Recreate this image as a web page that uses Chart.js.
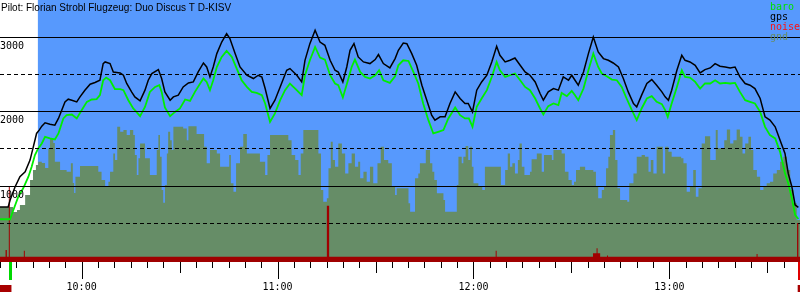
<!DOCTYPE html>
<html>
<head>
<meta charset="utf-8">
<script src="https://cdn.jsdelivr.net/npm/chart.js@4"></script>
<style>
  html, body { margin: 0; padding: 0; background: #fff; }
  #wrap { position: relative; width: 800px; height: 300px; }
</style>
</head>
<body>
<div id="wrap"><canvas id="barogram"></canvas></div>
<script>
// ── DATA ──────────────────────────────────────────────────────────────────────
// times are minutes after midnight, altitudes in metres

var pilotLine = 'Pilot: Florian Strobl Flugzeug: Duo Discus T D-KISV';

var timeRange = [575, 820];
var taskWindow = [586.6, 820];
var takeoffTime = 578.2;
var landingTime = 819.6;

var hourTicks = [600, 660, 720, 780];
var hourLabels = ['10:00', '11:00', '12:00', '13:00'];
var yMajor = [1000, 2000, 3000];
var yMajorLabels = ['1000', '2000', '3000'];
var yMinor = [500, 1500, 2500];

var gpsTimes = [575.0,577.5,578.1,579.6,581.1,582.7,584.2,585.2,586.2,587.0,
  587.8,588.8,590.3,591.8,592.9,593.9,594.9,595.9,597.0,598.5,
  599.5,601.0,602.6,604.1,605.6,606.6,607.2,608.7,609.7,611.8,
  612.8,613.8,615.3,616.3,617.9,619.4,620.4,621.5,623.5,624.5,
  625.5,627.1,628.1,629.6,631.1,632.7,634.2,635.7,637.3,638.3,
  639.3,640.3,641.4,642.9,644.4,645.4,647.0,648.5,650.6,652.6,
  654.1,655.2,656.2,657.7,659.2,660.8,662.8,663.8,665.9,667.4,
  668.4,669.9,671.5,673.0,674.5,676.1,677.6,678.6,680.0,681.2,
  682.2,683.4,684.7,686.3,688.3,689.9,690.9,692.4,694.4,696.0,
  697.0,698.5,699.6,701.1,702.6,704.2,705.7,707.2,708.2,709.8,
  711.3,712.8,714.4,715.9,717.4,718.4,719.7,721.0,722.5,724.1,
  725.6,727.1,728.1,729.7,731.2,732.7,734.3,735.8,737.3,738.9,
  740.4,741.4,742.9,744.5,746.0,747.5,749.1,750.1,751.1,752.1,
  753.7,755.2,756.7,758.2,759.8,761.3,762.8,764.4,765.9,767.4,
  769.0,770.0,771.5,773.1,774.6,776.1,777.7,778.7,779.7,780.7,
  782.3,783.8,784.8,786.3,787.9,789.4,790.9,792.5,794.0,795.5,
  797.1,798.6,800.1,801.6,803.2,804.7,806.2,807.8,809.3,810.8,
  812.4,813.9,815.4,816.4,817.5,818.5,819.5];
var gpsAlt = [718,718,812,987,1125,1192,1349,1527,1707,1752,
  1805,1850,1832,1819,1909,2020,2132,2168,2154,2132,
  2199,2289,2369,2392,2423,2647,2669,2647,2534,2521,
  2490,2379,2266,2199,2145,2289,2423,2513,2566,2446,
  2266,2154,2199,2222,2333,2387,2400,2534,2655,2601,
  2467,2601,2781,2937,3050,2983,2781,2601,2490,2446,
  2490,2467,2311,2043,2154,2333,2557,2580,2490,2400,
  2691,2915,3094,2937,2893,2691,2557,2534,2400,2601,
  2826,2915,2736,2669,2647,2701,2768,2647,2588,2714,
  2826,2924,2915,2781,2624,2356,2154,1953,1886,1930,
  1930,2110,2266,2177,2110,2110,1997,2289,2400,2490,
  2669,2879,2758,2669,2691,2722,2624,2534,2490,2400,
  2244,2154,2266,2311,2289,2467,2423,2490,2423,2356,
  2534,2781,3004,2803,2714,2691,2655,2601,2446,2266,
  2110,2064,2222,2379,2432,2356,2266,2199,2154,2289,
  2557,2758,2691,2669,2624,2521,2566,2588,2647,2611,
  2601,2588,2601,2467,2379,2356,2311,2177,1930,1886,
  1796,1617,1439,1170,991,745,714];

var baroTimes = [575.0,578.1,579.1,580.6,582.1,583.7,584.7,585.7,586.7,587.8,
  588.8,590.3,591.8,592.9,594.4,595.4,597.0,598.5,600.0,601.6,
  603.1,604.6,605.6,606.6,607.5,608.7,610.2,611.8,612.8,614.3,
  615.8,616.3,617.9,619.4,620.9,622.5,623.8,624.5,625.5,627.1,
  628.6,630.1,631.7,633.2,634.7,636.3,637.3,638.3,639.3,640.3,
  641.4,642.9,644.4,646.0,647.5,649.0,650.6,652.1,653.6,655.2,
  656.2,657.7,659.2,660.8,662.3,663.8,665.4,667.4,668.4,669.9,
  671.5,673.0,674.5,676.1,677.6,678.6,680.0,681.4,682.7,683.7,
  685.3,686.8,688.3,689.9,691.1,692.4,694.4,696.0,697.0,698.5,
  700.1,701.6,703.1,704.6,706.2,707.7,709.2,710.8,712.3,714.4,
  715.9,717.4,718.6,719.7,721.0,722.5,724.1,725.6,727.1,728.1,
  729.7,731.2,732.7,734.3,735.8,737.3,738.9,740.4,741.4,742.9,
  744.5,746.0,747.0,748.6,750.1,751.1,752.1,753.7,755.2,756.7,
  758.2,759.3,760.8,762.4,763.9,765.4,766.9,768.5,770.0,771.5,
  773.1,774.6,776.1,777.7,778.7,779.5,780.7,782.3,783.8,784.8,
  786.3,787.9,789.4,790.9,792.5,794.0,795.5,797.1,798.6,800.1,
  801.6,803.2,804.7,806.2,807.8,809.3,810.8,812.4,813.9,815.4,
  816.4,817.5,818.5,819.5];
var baroAlt = [553,553,678,856,969,1125,1259,1416,1506,1573,
  1662,1640,1627,1707,1909,1953,1962,1909,2020,2132,
  2164,2168,2222,2423,2459,2423,2302,2302,2289,2154,
  2043,2020,1940,2064,2266,2333,2356,2266,2056,1940,
  1997,2043,2164,2145,2266,2379,2446,2400,2289,2423,
  2601,2736,2816,2736,2580,2423,2333,2266,2252,2222,
  2110,1863,1976,2154,2289,2379,2311,2222,2490,2691,
  2870,2728,2701,2490,2379,2356,2191,2400,2601,2701,
  2534,2467,2446,2490,2557,2423,2387,2477,2624,2691,
  2682,2534,2379,2110,1886,1707,1729,1752,1909,2056,
  1953,1909,1909,1796,2064,2177,2289,2467,2669,2557,
  2467,2490,2513,2423,2333,2289,2177,2043,1962,2074,
  2110,2087,2252,2208,2279,2222,2154,2311,2557,2781,
  2601,2513,2477,2432,2423,2333,2177,2020,1886,2043,
  2177,2208,2132,2101,2020,1930,2110,2333,2557,2467,
  2459,2400,2311,2379,2379,2423,2379,2387,2379,2387,
  2266,2154,2132,2110,1997,1796,1685,1640,1460,1170,
  1036,835,611,557];

var gndTimes = [575.0,578.1,579.0,580.2,581.1,582.7,584.2,585.1,586.0,586.7,
  587.8,588.8,589.8,590.3,591.3,591.8,593.4,595.4,596.7,597.3,
  597.7,598.1,599.5,603.6,605.1,606.1,607.2,608.2,608.7,609.7,
  610.2,610.9,611.8,612.8,613.8,614.8,615.8,616.3,616.9,617.4,
  617.9,619.4,620.9,623.0,623.5,624.0,624.5,625.0,625.5,626.1,
  626.5,627.1,627.6,628.1,631.1,632.2,632.7,635.2,637.5,638.3,
  639.3,641.4,642.4,645.2,645.7,646.5,647.3,648.5,649.5,650.6,
  654.6,656.2,656.9,657.7,663.3,664.3,665.4,666.4,667.1,667.9,
  672.5,673.3,674.0,675.1,675.6,676.3,676.9,677.6,678.6,679.7,
  680.7,681.7,682.7,683.7,684.7,685.3,686.3,687.3,688.3,689.3,
  690.6,691.6,692.6,693.9,695.0,696.0,696.5,700.1,700.6,702.1,
  703.1,703.6,705.4,706.7,707.4,708.0,708.8,710.8,711.3,714.9,
  715.4,716.4,716.9,717.6,718.4,719.0,719.5,720.0,721.5,722.7,
  723.5,727.6,728.4,729.7,730.5,731.2,731.9,732.7,733.6,734.1,
  734.8,735.6,737.3,737.8,739.4,740.9,741.6,744.0,744.5,747.0,
  748.0,749.1,750.1,750.8,751.4,752.6,754.2,756.7,757.5,758.2,
  759.3,760.0,760.6,761.3,761.8,762.7,763.4,764.1,764.9,767.1,
  767.7,769.0,770.0,771.5,772.5,773.6,774.3,775.1,776.1,778.0,
  778.7,779.7,780.7,783.6,784.3,785.3,786.3,787.3,788.1,788.9,
  789.9,790.9,792.5,794.2,794.8,796.8,797.6,798.6,799.6,800.6,
  801.6,802.4,803.2,804.2,805.0,805.7,806.8,807.8,808.8,809.8,
  810.8,811.8,812.9,813.9,814.9,816.0,817.0,818.0,819.0,820.0];
var gndAlt = [718,718,651,678,745,879,1081,1215,1282,1326,
  1309,1242,1506,1640,1577,1326,1215,1192,1305,1040,
  906,1125,1268,1268,1192,1081,1000,1058,1192,1439,
  1349,1796,1729,1752,1685,1752,1685,1416,1148,1372,
  1573,1372,1148,1483,1685,1393,946,776,1013,1439,
  1729,1617,1483,1796,1775,1617,1805,1698,1528,1305,
  1483,1439,1259,1416,1036,923,1305,1528,1698,1439,
  1326,1148,1416,1685,1617,1416,1349,1148,1439,1752,
  1439,946,789,835,1238,1595,1349,1259,1573,1439,
  1170,1305,1439,1259,1326,1103,1192,1058,1259,1036,
  1305,1528,1349,1305,991,879,969,768,655,1103,
  1170,1305,1483,1305,1192,1081,902,812,655,1013,
  1393,1305,1393,1537,1349,1528,1259,1036,991,946,
  1259,1259,1013,1215,1439,1259,1305,1170,1349,1573,
  1259,1148,1192,1360,1439,1192,1416,1349,1483,1439,
  1192,1081,1013,1058,1215,1259,1215,1192,991,835,
  946,991,1238,1393,1685,1752,1349,969,812,789,
  1036,1170,1393,1416,1393,1192,1349,1170,1528,1170,
  1528,1460,1393,1372,1305,923,991,1215,856,969,
  1573,1671,1349,1752,1507,1617,1761,1573,1617,1761,
  1662,1439,1573,1662,1483,1215,1125,946,991,1036,
  1058,1170,1215,1326,1393,1215,946,768,544,544];

var noiseTimes = [575.0,576.7,577.1,577.7,578.0,582.3,582.6,675.1,675.8,726.8,
  727.1,756.6,757.7,758.0,758.8,760.9,761.2,806.7,807.0,819.1,819.5,820.0];
var noiseVals = [50,140,50,990,50,130,50,736,50,128,
  50,97,164,97,50,64,50,87,50,503,50,50];

// ── STYLE ─────────────────────────────────────────────────────────────────────

var SKY = '#5799fd';
var GND = '#668d67';
var MONO = { family: 'DejaVu Sans Mono', size: 10 };

function pts(ts, vs) {
  return ts.map(function(t, i) { return { x: t, y: vs[i] }; });
}

// axes sit flush: no width for the mirrored y labels, fixed strip for time labels
function flushY(s) {
  s.width = 0;
  s.paddingTop = 0;
  s.paddingBottom = 0;
}
function flushX(s) {
  s.height = 31;
  s.paddingLeft = 0;
  s.paddingRight = 0;
}

var xTicks = [];
for (var m = timeRange[0]; m < timeRange[1]; m += 5) xTicks.push(m);

// background window, axis ticks, flight markers, header and key
var barogramDecor = {
  id: 'barogramDecor',
  beforeDraw: function(chart) {
    var ctx = chart.ctx, a = chart.chartArea, xs = chart.scales.x;
    ctx.save();
    ctx.fillStyle = '#fff';
    ctx.fillRect(0, 0, chart.width, chart.height);
    var x0 = xs.getPixelForValue(taskWindow[0]);
    var x1 = xs.getPixelForValue(taskWindow[1]);
    ctx.fillStyle = SKY;
    ctx.fillRect(x0, a.top, x1 - x0, a.bottom - a.top);
    ctx.restore();
  },
  afterDraw: function(chart) {
    var ctx = chart.ctx, a = chart.chartArea, xs = chart.scales.x;
    var bot = Math.round(a.bottom);
    ctx.save();

    // time ticks: 5 min short, 30 min medium, hour long
    ctx.strokeStyle = '#000';
    ctx.lineWidth = 1;
    ctx.beginPath();
    xs.ticks.forEach(function(t) {
      var px = Math.round(xs.getPixelForValue(t.value)) + 0.5;
      var len = t.value % 60 === 0 ? 17 : (t.value % 30 === 0 ? 11 : 6);
      ctx.moveTo(px, bot);
      ctx.lineTo(px, bot + len);
    });
    ctx.stroke();

    // takeoff / landing
    var tx = xs.getPixelForValue(takeoffTime);
    var lx = xs.getPixelForValue(landingTime);
    ctx.fillStyle = '#00d800';
    ctx.fillRect(Math.round(tx) - 1, bot, 3, 18);
    ctx.fillStyle = '#e00000';
    ctx.fillRect(Math.round(lx) - 1, bot, 3, 18);
    ctx.fillStyle = '#a80000';
    ctx.fillRect(a.left, bot + 23, tx - a.left + 1, 7);
    ctx.fillRect(lx - 1, bot + 23, a.right - lx + 1, 7);

    // header
    ctx.fillStyle = '#000';
    ctx.font = '10px "Liberation Sans"';
    ctx.textBaseline = 'alphabetic';
    ctx.textAlign = 'left';
    ctx.fillText(pilotLine, 1, 10.5);

    // key
    ctx.font = '10px "DejaVu Sans Mono"';
    chart.data.datasets.forEach(function(ds, i) {
      ctx.fillStyle = ds.keyColor;
      ctx.fillText(ds.label, 770, 10 + i * 10);
    });
    ctx.restore();
  }
};

new Chart(document.getElementById('barogram'), {
  type: 'line',
  data: {
    datasets: [
      {
        label: 'baro',
        data: pts(baroTimes, baroAlt),
        borderColor: '#00ee00',
        borderWidth: 1.8,
        pointRadius: 0,
        fill: false,
        keyColor: '#00e000',
      },
      {
        label: 'gps',
        data: pts(gpsTimes, gpsAlt),
        borderColor: '#000',
        borderWidth: 1.5,
        pointRadius: 0,
        fill: false,
        keyColor: '#000',
      },
      {
        label: 'noise',
        data: pts(noiseTimes, noiseVals),
        stepped: true,
        borderWidth: 0,
        pointRadius: 0,
        backgroundColor: '#a00000',
        fill: 'start',
        keyColor: '#ff1010',
      },
      {
        label: 'gnd',
        data: pts(gndTimes, gndAlt),
        stepped: true,
        borderWidth: 0,
        pointRadius: 0,
        backgroundColor: GND,
        fill: 'start',
        keyColor: GND,
      },
    ],
  },
  options: {
    responsive: true,
    maintainAspectRatio: false,
    animation: false,
    events: [],
    layout: { padding: { left: 0, right: 0, top: 0, bottom: 7 } },
    plugins: {
      legend: { display: false },
      tooltip: { enabled: false },
    },
    scales: {
      x: {
        type: 'linear',
        min: timeRange[0],
        max: timeRange[1],
        afterBuildTicks: function(s) { s.ticks = xTicks.map(function(v) { return { value: v }; }); },
        afterFit: flushX,
        grid: { display: false, drawTicks: false },
        border: { display: false },
        ticks: {
          autoSkip: false,
          maxRotation: 0,
          padding: 19,
          color: '#000',
          font: MONO,
          callback: function(v) {
            var i = hourTicks.indexOf(v);
            return i >= 0 ? hourLabels[i] : '';
          },
        },
      },
      y: {
        position: 'left',
        min: -22,
        max: 3502,
        afterBuildTicks: function(s) { s.ticks = yMajor.map(function(v) { return { value: v }; }); },
        afterFit: flushY,
        grid: { color: '#000', lineWidth: 1, drawTicks: false, z: 1 },
        border: { display: false },
        ticks: {
          mirror: true,
          padding: 0,
          labelOffset: 9,
          z: 1,
          color: '#000',
          font: MONO,
          callback: function(v) {
            var i = yMajor.indexOf(v);
            return i >= 0 ? yMajorLabels[i] : '';
          },
        },
      },
      yHalf: {
        position: 'left',
        min: -22,
        max: 3502,
        afterBuildTicks: function(s) { s.ticks = yMinor.map(function(v) { return { value: v }; }); },
        afterFit: flushY,
        grid: { color: '#000', lineWidth: 1, drawTicks: false, z: 1 },
        border: { display: false, dash: [4, 3] },
        ticks: { display: false },
      },
    },
  },
  plugins: [barogramDecor],
});
</script>
</body>
</html>
